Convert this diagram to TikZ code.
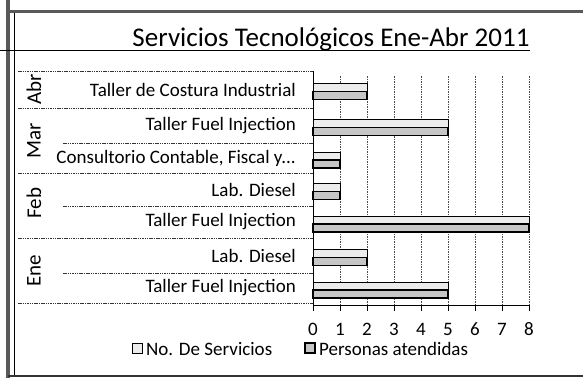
\documentclass[tikz,border=0pt]{standalone}
\usepackage{fontspec}
\setmainfont{Carlito}
\begin{document}
\begin{tikzpicture}[x=1pt,y=-1pt,
  lbl/.style={font=\fontsize{19}{22}\selectfont, inner sep=0pt},
  mlbl/.style={font=\fontsize{21}{24}\selectfont, inner sep=0pt, rotate=90},
  gridln/.style={black!70, line width=0.7pt, dash pattern=on 1.5pt off 1pt},
  sepln/.style={black!80, line width=0.7pt, dash pattern=on 1.5pt off 0.8pt},
  barA/.style={draw=black, line width=0.8pt, fill=gray!15},
  barB/.style={draw=black, line width=1.2pt, fill=gray!45},
  axisln/.style={black, line width=0.8pt}]
\useasboundingbox (0,0) rectangle (583,378);
\fill[white] (0,0) rectangle (583,378);
% frame
\draw[black!65, line width=4pt] (8,0) -- (8,378);
\draw[black, line width=0.8pt] (14,10) -- (14,376);
\draw[black!65, line width=3pt] (8,11) -- (583,11);
\draw[black!80, line width=1.5pt] (8,376) -- (583,376);
% title
\node[font=\fontsize{27}{30}\selectfont, anchor=base, inner sep=0pt] (title) at (331,46) {Servicios Tecnológicos Ene-Abr 2011};
\draw[line width=1pt] (0,50) -- (530,50);
% gridlines
\foreach \k in {1,...,8} \draw[gridln] ({313+27*\k},76) -- ({313+27*\k},305);
% separators
\foreach \y in {71,108,173,238,303} \draw[sepln] (18,\y) -- (313,\y);
\foreach \y in {143,206,273} \draw[sepln] (63,\y) -- (313,\y);
% bars
\foreach \c/\v in {89.5/2, 125.5/5, 158/1, 189.5/1, 222/8, 255.5/2, 288/5} {
  \draw[barA] (313,{\c-6}) rectangle ({313+27*\v},{\c+2});
  \draw[barB] (313,{\c+2}) rectangle ({313+27*\v},{\c+10});
}
% axes
\draw[axisln] (313,71) -- (313,305) -- (529,305);
\foreach \k in {0,...,8} {
  \draw[axisln] ({313+27*\k},305) -- ({313+27*\k},311);
  \node[lbl, anchor=base] (t\k) at ({313+27*\k},335) {\k};
}
% category labels
\node[lbl, anchor=east] (c0) at (296,89.5) {Taller de Costura Industrial};
\node[lbl, anchor=east] (c1) at (296,125.5) {Taller Fuel Injection};
\node[lbl, anchor=east] (c2) at (296,158) {Consultorio Contable, Fiscal y...};
\node[lbl, anchor=east] (c3) at (296,189.5) {Lab. Diesel};
\node[lbl, anchor=east] (c4) at (296,222) {Taller Fuel Injection};
\node[lbl, anchor=east] (c5) at (296,255.5) {Lab. Diesel};
\node[lbl, anchor=east] (c6) at (296,288) {Taller Fuel Injection};
% month labels
\node[mlbl] (mAbr) at (34,89.5) {Abr};
\node[mlbl] (mMar) at (34,140.5) {Mar};
\node[mlbl] (mFeb) at (34,203) {Feb};
\node[mlbl] (mEne) at (34,270.5) {Ene};
% legend
\draw[barA] (132,343) rectangle (142,353);
\node[lbl, anchor=base west] (legA) at (146,355) {No. De Servicios};
\draw[barB] (305,343) rectangle (315,353);
\node[lbl, anchor=base west] (legB) at (319,355) {Personas atendidas};
\end{tikzpicture}
\end{document}
